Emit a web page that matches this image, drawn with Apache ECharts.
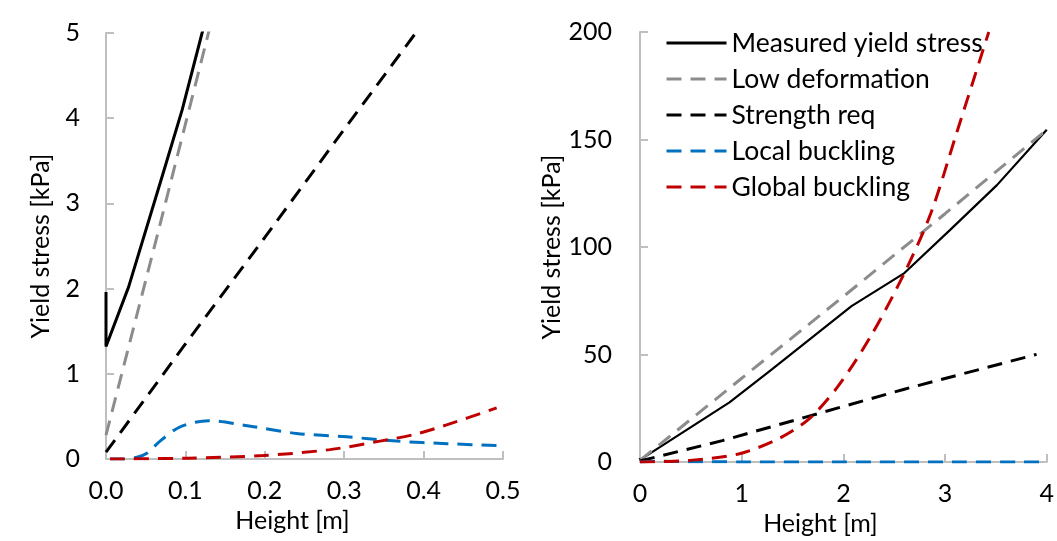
<!DOCTYPE html>
<html>
<head>
<meta charset="utf-8">
<script src="https://cdn.jsdelivr.net/npm/echarts@6/dist/echarts.min.js"></script>
<style>
  html, body { margin: 0; padding: 0; background: #fff; }
  #chart { width: 1057px; height: 541px; }
</style>
</head>
<body>
<div id="chart"></div>
<script>
// Series names (shared by both panels)
const seriesNames = ['Measured yield stress', 'Low deformation', 'Strength req', 'Local buckling', 'Global buckling'];

// Left panel: close-up of small heights, [height m, yield stress kPa]
const measuredLeft = [[0, 1.96], [0, 1.32], [0.0285, 2.02], [0.0705, 3.31], [0.096, 4.1], [0.121, 5.0], [0.13, 5.28]];
const lowDefLeft = [[0, 0.28], [0.065, 2.64], [0.129, 5.0], [0.14, 5.4]];
const strengthLeft = [[0, 0.08], [0.1, 1.35], [0.2, 2.6], [0.3, 3.87], [0.39, 5.0], [0.4, 5.12]];
const localLeft = [[0.005, 0], [0.02, 0], [0.039, 0.02], [0.052, 0.07], [0.068, 0.21], [0.094, 0.38], [0.129, 0.45], [0.178, 0.39], [0.24, 0.30], [0.303, 0.26], [0.366, 0.21], [0.43, 0.18], [0.5, 0.155]];
const globalLeft = [[0.005, 0], [0.102, 0.01], [0.198, 0.04], [0.282, 0.11], [0.345, 0.21], [0.387, 0.285], [0.429, 0.40], [0.492, 0.60]];

// Right panel: full height range
const measuredRight = [[0, 1.96], [0, 1.0], [0.88, 27.8], [1.3, 43.2], [2.08, 72.5], [2.6, 87.9], [3.05, 108], [3.51, 128.8], [4, 154.5]];
const lowDefRight = [[0, 0.8], [1, 39], [2, 77], [3, 115.5], [4, 154.5]];
const strengthRight = [[0, 0.5], [0.81, 10], [1.62, 20.8], [2.6, 33.9], [3.9, 50.1]];
const localRight = [[0, 0], [0.13, 0.45], [0.5, 0.15], [1, 0.1], [2, 0.06], [3, 0.04], [4, 0.03]];
const globalRight = [[0, 0], [0.49, 0.8], [0.97, 3.8], [1.36, 10.8], [1.66, 20], [1.95, 35.4], [2.27, 58.6], [2.6, 87.9], [2.86, 115.7], [3.12, 154], [3.43, 200]];

// Axis ticks
const leftXTicks = { min: 0, max: 0.5, interval: 0.1 };
const leftYTicks = { min: 0, max: 5, interval: 1 };
const rightXTicks = { min: 0, max: 4, interval: 1 };
const rightYTicks = { min: 0, max: 200, interval: 50 };

const FONT = 'Lato';
const axisGray = '#bfbfbf';
const colors = ['#000000', '#8c8c8c', '#000000', '#0070c0', '#c00000'];
const dash = [15, 9];

function axisCommon() {
  return {
    type: 'value',
    splitLine: { show: false },
    axisLine: { show: true, onZero: false, lineStyle: { color: axisGray, width: 2 } },
    axisTick: { show: true, inside: true, length: 8, lineStyle: { color: axisGray, width: 2 } },
    nameLocation: 'middle',
    nameTextStyle: { color: '#000', fontFamily: FONT, fontSize: 25 }
  };
}

function makeSeries(data, idx, xi, solidWidth) {
  const isSolid = idx === 0;
  return {
    name: seriesNames[idx],
    type: 'line',
    xAxisIndex: xi,
    yAxisIndex: xi,
    data: data,
    showSymbol: false,
    symbol: 'none',
    smooth: (idx === 3 || idx === 4) ? 0.3 : false,
    lineStyle: {
      color: colors[idx],
      width: isSolid ? solidWidth : 3,
      type: isSolid ? 'solid' : dash
    },
    itemStyle: { color: colors[idx] },
    emphasis: { disabled: true },
    animation: false
  };
}

const chart = echarts.init(document.getElementById('chart'), null, { renderer: 'canvas' });

const option = {
  backgroundColor: '#fff',
  animation: false,
  legend: {
    data: seriesNames,
    orient: 'vertical',
    left: 665,
    top: 29,
    padding: 0,
    itemWidth: 60,
    itemHeight: 14,
    itemGap: 8,
    itemStyle: { opacity: 0 },
    lineStyle: { width: 3 },
    textStyle: { color: '#000', fontFamily: FONT, fontSize: 26.5, lineHeight: 28 },
    selectedMode: false
  },
  grid: [
    { left: 106, top: 33, width: 397, height: 426 },
    { left: 640, top: 32, width: 411, height: 432 }
  ],
  xAxis: [
    Object.assign(axisCommon(), {
      gridIndex: 0, min: leftXTicks.min, max: leftXTicks.max, interval: leftXTicks.interval,
      name: 'Height [m]', nameGap: 49,
      axisLabel: { color: '#000', fontFamily: FONT, fontSize: 25, margin: 19, formatter: v => v.toFixed(1) },
      nameTextStyle: { color: '#000', fontFamily: FONT, fontSize: 25, padding: [0, 24, 0, 0] }
    }),
    Object.assign(axisCommon(), {
      gridIndex: 1, min: rightXTicks.min, max: rightXTicks.max, interval: rightXTicks.interval,
      name: 'Height [m]', nameGap: 44,
      axisLabel: { color: '#000', fontFamily: FONT, fontSize: 25, margin: 19 },
      nameTextStyle: { color: '#000', fontFamily: FONT, fontSize: 25, padding: [0, 46, 0, 0] }
    })
  ],
  yAxis: [
    Object.assign(axisCommon(), {
      gridIndex: 0, min: leftYTicks.min, max: leftYTicks.max, interval: leftYTicks.interval,
      name: 'Yield stress [kPa]', nameGap: 53,
      axisLabel: { color: '#000', fontFamily: FONT, fontSize: 25, margin: 26 }
    }),
    Object.assign(axisCommon(), {
      gridIndex: 1, min: rightYTicks.min, max: rightYTicks.max, interval: rightYTicks.interval,
      name: 'Yield stress [kPa]', nameGap: 67,
      axisLabel: { color: '#000', fontFamily: FONT, fontSize: 25, margin: 28 }
    })
  ],
  series: [
    makeSeries(measuredLeft, 0, 0, 3),
    makeSeries(lowDefLeft, 1, 0),
    makeSeries(strengthLeft, 2, 0),
    makeSeries(localLeft, 3, 0),
    makeSeries(globalLeft, 4, 0),
    makeSeries(measuredRight, 0, 1, 2.2),
    makeSeries(lowDefRight, 1, 1),
    makeSeries(strengthRight, 2, 1),
    makeSeries(localRight, 3, 1),
    makeSeries(globalRight, 4, 1)
  ]
};

chart.setOption(option);
</script>
</body>
</html>
